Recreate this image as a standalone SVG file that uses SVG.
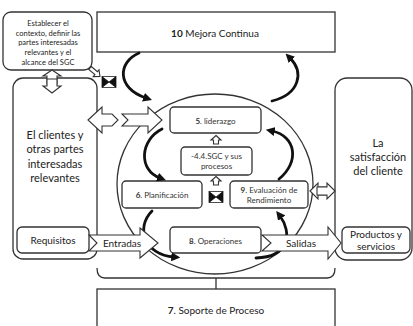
<svg xmlns="http://www.w3.org/2000/svg" width="413" height="326" viewBox="0 0 413 326">
<style>
.bx{fill:#fff;stroke:#333;stroke-width:1.3}
.ln{fill:none;stroke:#333;stroke-width:1.3}
.ha{fill:#fff;stroke:#333;stroke-width:1.1;stroke-linejoin:miter}
.ca{fill:none;stroke:#111;stroke-width:2.8;stroke-linecap:round}
text{font-family:Lato,"Liberation Sans",sans-serif;fill:#222;text-anchor:middle;dominant-baseline:central}
.s7{font-size:7.5px}
.s8{font-size:8px;fill:#333}
.s10{font-size:10px}
.s11{font-size:11px}
.b{font-weight:bold}
</style>
<defs>
<marker id="ah" viewBox="0 0 10 10" refX="3" refY="5" markerWidth="9" markerHeight="9" markerUnits="userSpaceOnUse" orient="auto"><path d="M0,0 L10,5 L0,10 z" fill="#111"/></marker>
<g id="bow"><rect x="-7" y="-5.5" width="14" height="11" fill="#fff" stroke="#222" stroke-width="0.8"/><path d="M-7,-5.5 L7,5.5 M-7,5.5 L7,-5.5" stroke="#222" stroke-width="0.8"/><path d="M-7,-5.5 L0,0 L-7,5.5 z M7,-5.5 L0,0 L7,5.5 z" fill="#111"/></g>
</defs>

<ellipse class="ln" cx="215" cy="184" rx="98" ry="90"/>
<path class="ln" d="M97 268 Q97 278 105 278 L327 278 Q335 278 335 268 M216 278 L216 289"/>

<g id="contexto">
<rect class="bx" x="3" y="12" width="89" height="58" rx="8"/>
<text class="s7" x="48" y="23">Establecer el</text>
<text class="s7" x="48" y="33">contexto, definir las</text>
<text class="s7" x="48" y="42.5">partes interesadas</text>
<text class="s7" x="48" y="52">relevantes y el</text>
<text class="s7" x="48" y="62">alcance del  SGC</text>
</g>

<g id="mejora">
<rect class="bx" x="97" y="12" width="238" height="40"/>
<text class="s10" x="215" y="33"><tspan class="b">10</tspan> Mejora Continua</text>
</g>

<g id="clientes">
<rect class="bx" x="13" y="78" width="84" height="181" rx="10"/>
<text class="s11" x="55" y="134">El clientes y</text>
<text class="s11" x="55" y="148.5">otras partes</text>
<text class="s11" x="55" y="163">interesadas</text>
<text class="s11" x="55" y="177">relevantes</text>
</g>

<g id="requisitos">
<rect class="bx" x="17" y="227" width="72" height="26" rx="5"/>
<text class="s10" x="53" y="240">Requisitos</text>
</g>

<g id="satisfaccion">
<rect class="bx" x="335" y="78" width="77" height="182" rx="12"/>
<text class="s11" x="378" y="142">La</text>
<text class="s11" x="378" y="156">satisfacción</text>
<text class="s11" x="378" y="170">del cliente</text>
</g>

<g id="productos">
<rect class="bx" x="342" y="227" width="68" height="26" rx="5"/>
<text class="s10" x="376" y="234">Productos y</text>
<text class="s10" x="376" y="246">servicios</text>
</g>

<g id="soporte">
<rect class="bx" x="97" y="289" width="238" height="45"/>
<text class="s10" x="216" y="310"><tspan class="b">7</tspan>. Soporte de Proceso</text>
</g>

<g id="liderazgo">
<rect class="bx" x="170" y="107" width="91" height="26" rx="4"/>
<text class="s8" x="215.5" y="120.5"><tspan class="b">5</tspan>. liderazgo</text>
</g>

<g id="sgc">
<rect class="bx" x="181" y="147" width="71" height="28" rx="4"/>
<text class="s8" x="216.5" y="156">-4.4.SGC y sus</text>
<text class="s8" x="216.5" y="166">procesos</text>
</g>

<g id="planificacion">
<rect class="bx" x="122" y="181" width="80" height="27" rx="4"/>
<text class="s8" x="162" y="195"><tspan class="b">6</tspan>. Planificación</text>
</g>

<g id="evaluacion">
<rect class="bx" x="230" y="181" width="78" height="27" rx="4"/>
<text class="s8" x="269" y="189.5"><tspan class="b">9</tspan>. Evaluación de</text>
<text class="s8" x="269" y="200">Rendimiento</text>
</g>

<g id="operaciones">
<rect class="bx" x="170" y="227" width="91" height="26" rx="4"/>
<text class="s8" x="215.5" y="240.5"><tspan class="b">8</tspan>. Operaciones</text>
</g>

<g id="connectors">
<path class="ca" d="M139 53 C118 62 116 88 146 98" marker-end="url(#ah)"/>
<path class="ca" d="M272 101 C300 94 304 72 290 58" marker-end="url(#ah)"/>
<path class="ca" d="M162 129 C140 140 138 170 160 178" marker-end="url(#ah)"/>
<path class="ca" d="M279 179 C300 162 296 136 272 131" marker-end="url(#ah)"/>
<path class="ca" d="M152 211 C135 228 145 255 174 257" marker-end="url(#ah)"/>
<path class="ca" d="M256 258 C290 257 292 232 280 216" marker-end="url(#ah)"/>

<polygon class="ha" points="89,235 140,235 140,228 158,243 140,258 140,251 89,251 97,243"/>
<text class="s10" x="122" y="243">Entradas</text>
<polygon class="ha" points="262,235 328,235 328,227 341,243 328,259 328,251 262,251 271,243"/>
<text class="s10" x="301" y="243">Salidas</text>

<polygon class="ha" points="88,120 102,107 102,114 112,114 118,120 112,126 102,126 102,133"/>
<polygon class="ha" points="122,114 148,114 148,107 162,120 148,133 148,126 122,126 128,120"/>

<polygon class="ha" points="52,70 61,76 57,76 57,84 47,84 47,76 43,76"/>
<polygon class="ha" points="47,79 57,79 57,86 61,86 52,93 43,86 47,86"/>

<polygon class="ha" points="310,191 318,183 318,187 328,187 328,195 318,195 318,199"/>
<polygon class="ha" points="335,191 327,183 327,187 317,187 317,195 327,195 327,199"/>

<polygon class="ha" transform="translate(90,68) rotate(40)" points="0,-2 8,-2 8,-4.5 13,0 8,4.5 8,2 0,2"/>

<polygon class="ha" points="216,135.5 221,140 218.5,140 218.5,144 213.5,144 213.5,140 211,140"/>
<polygon class="ha" points="216,176.5 221,181 218.5,181 218.5,185 213.5,185 213.5,181 211,181"/>

<use href="#bow" x="109" y="82"/>
<use href="#bow" x="216" y="197"/>
</g>
</svg>
